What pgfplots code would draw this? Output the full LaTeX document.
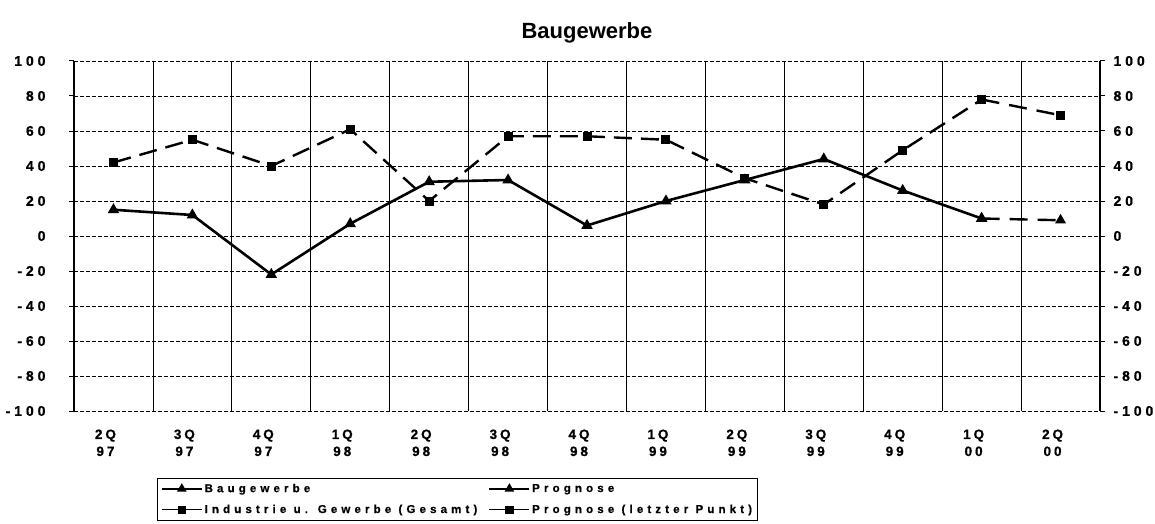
\documentclass[border=0pt]{standalone}
\usepackage{fontspec}
\setmainfont{Liberation Sans}
\newfontfamily\spaced[LetterSpace=22, FakeBold=0.8]{Liberation Sans}
\newfontfamily\spacedy[LetterSpace=28, FakeBold=0.8]{Liberation Sans}
\newfontfamily\spacedl[LetterSpace=36, FakeBold=0.6]{Liberation Sans}
\usepackage{pgfplots}
\usepackage{pgfplotstable}
\pgfplotsset{compat=1.18}

\pgfplotstableread{
x y
0 15
1 12
2 -22
3 7
4 31
5 32
6 6
7 20
8 32
9 44
10 26
11 10
}\bau
\pgfplotstableread{
x y
11 10
12 9
}\baupro
\pgfplotstableread{
x y
0 42
1 55
2 40
3 61
4 20
5 57
6 57
7 55
8 33
9 18
10 49
11 78
}\ind
\pgfplotstableread{
x y
11 78
12 69
}\indpro

\begin{document}
\begin{tikzpicture}[x=1pt,y=1pt]
\path[use as bounding box] (0,0) rectangle (1155,523);
\begin{axis}[
  at={(74pt,112pt)}, anchor=south west,
  scale only axis, width=1026pt, height=350pt,
  xmin=-0.5, xmax=12.5, ymin=-100, ymax=100,
  xtick={0,...,12},
  xticklabels={{2Q\\97},{3Q\\97},{4Q\\97},{1Q\\98},{2Q\\98},{3Q\\98},{4Q\\98},{1Q\\99},{2Q\\99},{3Q\\99},{4Q\\99},{1Q\\00},{2Q\\00}},
  minor xtick={0.5,1.5,...,11.5},
  xminorgrids, xmajorgrids=false,
  minor x grid style={black, line width=0.7pt},
  ytick={-100,-80,...,100},
  yticklabels={{-100},{-80},{-60},{-40},{-20},0,20,40,60,80,100},
  ymajorgrids,
  major y grid style={black, line width=0.7pt, dash pattern=on 3.5pt off 2.5pt},
  extra y ticks={0}, extra y tick labels={},
  extra y tick style={major grid style={solid, black, line width=1pt}},
  separate axis lines,
  x axis line style={draw=none},
  y axis line style={black, line width=1.4pt},
  tick align=outside, major tick length=5pt,
  x tick style={draw=none}, minor x tick style={draw=none},
  y tick style={black, line width=1pt},
  ytick pos=left,
  xticklabel style={font=\spaced\bfseries\fontsize{13.5}{17}\selectfont, align=center, yshift=-10pt, xshift=-8pt},
  yticklabel style={font=\spacedy\bfseries\fontsize{14}{16}\selectfont, anchor=east, xshift=-20pt},
  clip=false,
  title={Baugewerbe},
  title style={font=\bfseries\fontsize{22}{26}\selectfont, at={(0.5,1)}, anchor=base, yshift=16pt},
  legend columns=2,
  legend cell align=left,
  legend style={at={(0.0809,-0.191)}, anchor=north west, draw=black, line width=1pt,
    font=\spacedl\bfseries\fontsize{11.5}{14}\selectfont, row sep=7pt, inner sep=3.5pt,
    nodes={inner sep=2pt}},
  legend image code/.code={\draw[mark repeat=2, mark phase=2, solid, line width=1.6pt] plot coordinates {(0pt,0pt) (20pt,0pt) (40pt,0pt)};},
]
\addplot[black, line width=2.6pt, mark=triangle*, mark size=4pt, mark options={solid}] table {\bau};
\addlegendentry{\makebox[282pt][l]{Baugewerbe}}
\addplot[black, line width=2.4pt, dash pattern=on 18pt off 10pt, mark=triangle*, mark size=4pt, mark options={solid}] table {\baupro};
\addlegendentry{Prognose}
\addplot[black, line width=2.4pt, dash pattern=on 18pt off 9pt, mark=square*, mark size=3.3pt, mark options={solid}] table {\ind};
\addlegendentry{\makebox[282pt][l]{Industrie u. Gewerbe (Gesamt)}}
\addplot[black, line width=2.4pt, dash pattern=on 18pt off 10pt, mark=square*, mark size=3.3pt, mark options={solid}] table {\indpro};
\addlegendentry{Prognose (letzter Punkt)}
\end{axis}
\begin{axis}[
  at={(74pt,112pt)}, anchor=south west,
  scale only axis, width=1026pt, height=350pt,
  xmin=-0.5, xmax=12.5, ymin=-100, ymax=100,
  axis x line=none, axis y line*=right,
  y axis line style={black, line width=1.4pt},
  ytick={-100,-80,...,100},
  yticklabels={{-100},{-80},{-60},{-40},{-20},0,20,40,60,80,100},
  tick align=outside, major tick length=5pt,
  y tick style={black, line width=1pt},
  yticklabel style={font=\spacedy\bfseries\fontsize{14}{16}\selectfont, anchor=west, xshift=5pt},
]
\addplot[draw=none, forget plot] coordinates {(0,0)};
\end{axis}
\end{tikzpicture}
\end{document}
